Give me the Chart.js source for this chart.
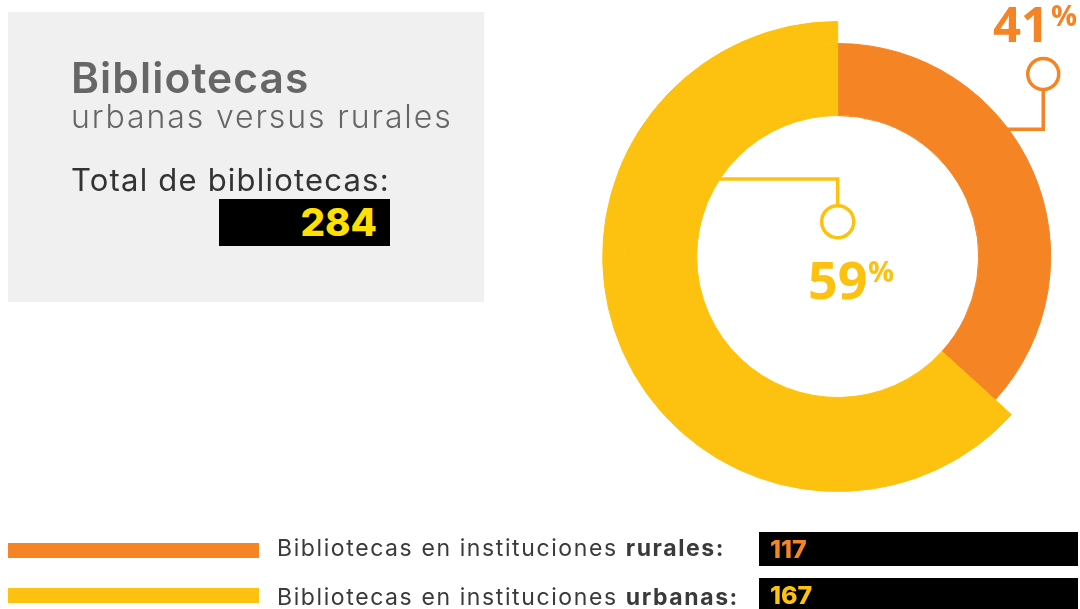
<!DOCTYPE html>
<html>
<head>
<meta charset="utf-8">
<script src="https://cdn.jsdelivr.net/npm/chart.js@4"></script>
<style>
  html, body { margin: 0; padding: 0; background: #fff; }
  body { width: 1080px; height: 609px; position: relative; overflow: hidden; font-family: "Inter", "Noto Sans", sans-serif; }
  #chart { position: absolute; left: 0; top: 0; }
  .abs { position: absolute; white-space: nowrap; line-height: 1; }
  .panel { position: absolute; left: 8px; top: 12px; width: 476px; height: 290px; background: #f0f0f0; }
  .title { left: 71px; top: 57px; font-size: 42.5px; font-weight: 600; color: #666; letter-spacing: 1.1px; }
  .subtitle { left: 71px; top: 101px; font-size: 32px; font-weight: 300; color: #666; letter-spacing: 1.9px; }
  .total { left: 71px; top: 164px; font-size: 31px; font-weight: 400; color: #333; letter-spacing: 1.2px; }
  .totalbox { left: 219px; top: 199px; width: 158px; height: 47px; line-height: 47px; padding-right: 13px; background: #000; color: #ffe000; font-size: 38.5px; font-weight: 800; text-align: right; }
  .pct { font-family: "Open Sans", sans-serif; font-weight: 700; }
  .swatch { position: absolute; left: 8px; width: 251px; height: 15px; }
  .legtext { left: 277px; font-size: 23px; color: #3a3a3a; letter-spacing: 1.6px; }
  .legtext b { font-weight: 700; }
  .numbox { left: 759px; width: 308px; height: 34px; line-height: 34px; padding-left: 11px; background: #000; font-size: 25px; font-weight: 800; }
</style>
</head>
<body>
<div class="panel"></div>
<canvas id="chart" width="1080" height="609"></canvas>

<div class="abs title">Bibliotecas</div>
<div class="abs subtitle">urbanas versus rurales</div>
<div class="abs total">Total de bibliotecas:</div>
<div class="abs totalbox" id="total"></div>

<div class="abs pct" id="pct0" style="left:993px; top:-1px; font-size:49px;"></div>
<div class="abs pct" id="pct0s" style="left:1051px; top:0px; font-size:29px;">%</div>
<div class="abs pct" id="pct1" style="left:808px; top:253px; font-size:52px;"></div>
<div class="abs pct" id="pct1s" style="left:868px; top:256px; font-size:29px;">%</div>

<div id="legend"></div>

<script>
const categories = ["rurales", "urbanas"];
const counts = [117, 167];
const percents = [41, 59];
// slice sizes as they are drawn in the reference (the arc is a bit short of 41%)
const arcShares = [36.75, 63.25];

const ORANGE = "#f48424";
const YELLOW = "#fdc210";

const colors = [ORANGE, YELLOW];

// text parts
document.getElementById("total").textContent = counts.reduce((a, b) => a + b, 0);
document.getElementById("pct0").textContent = percents[0];
document.getElementById("pct1").textContent = percents[1];
document.getElementById("pct0").style.color = ORANGE;
document.getElementById("pct0s").style.color = ORANGE;
document.getElementById("pct1").style.color = YELLOW;
document.getElementById("pct1s").style.color = YELLOW;

const legend = document.getElementById("legend");
const barTops = [543, 588];
const textTops = [537, 586];
const boxTops = [532, 578];
categories.forEach((cat, i) => {
  const sw = document.createElement("div");
  sw.className = "swatch";
  sw.style.top = barTops[i] + "px";
  sw.style.background = colors[i];
  legend.appendChild(sw);

  const t = document.createElement("div");
  t.className = "abs legtext";
  t.style.top = textTops[i] + "px";
  t.innerHTML = "Bibliotecas en instituciones <b>" + cat + ":</b>";
  legend.appendChild(t);

  const n = document.createElement("div");
  n.className = "abs numbox";
  n.style.top = boxTops[i] + "px";
  n.style.color = colors[i];
  n.textContent = counts[i];
  legend.appendChild(n);
});

// leader lines with small rings
const leaders = {
  id: "leaders",
  afterDraw(chart) {
    const arc = chart.getDatasetMeta(1).data[0];
    const cx = arc.x, cy = arc.y;
    const rIn = arc.innerRadius, rMid = arc.outerRadius;
    const ctx = chart.ctx;
    ctx.save();
    ctx.lineWidth = 3.5;

    // rural leader: out of the orange ring to the upper right
    ctx.strokeStyle = ORANGE;
    const ox = cx + rMid * 0.965, oy = cy - rMid * 0.857, rr = 15.5;
    const elbowY = cy - rMid * 0.597;
    const edgeX = cx + Math.sqrt(rMid * rMid - (cy - elbowY) ** 2) - 3;
    ctx.beginPath();
    ctx.arc(ox, oy, rr, 0, Math.PI * 2);
    ctx.stroke();
    ctx.beginPath();
    ctx.moveTo(ox, oy + rr);
    ctx.lineTo(ox, elbowY);
    ctx.lineTo(edgeX, elbowY);
    ctx.stroke();

    // urban leader: from the inner edge to the centre
    ctx.strokeStyle = YELLOW;
    const yx = cx, yy = cy - rIn * 0.247, yr = 16;
    const elbow2 = cy - rIn * 0.55;
    const edge2 = cx - Math.sqrt(rIn * rIn - (cy - elbow2) ** 2) - 3;
    ctx.beginPath();
    ctx.arc(yx, yy, yr, 0, Math.PI * 2);
    ctx.stroke();
    ctx.beginPath();
    ctx.moveTo(yx, yy - yr);
    ctx.lineTo(yx, elbow2);
    ctx.lineTo(edge2, elbow2);
    ctx.stroke();
    ctx.restore();
  }
};

new Chart(document.getElementById("chart").getContext("2d"), {
  type: "doughnut",
  data: {
    labels: categories,
    datasets: [
      // thin outer band: only the urban slice reaches it
      { data: arcShares, weight: 22, backgroundColor: ["rgba(0,0,0,0)", YELLOW], borderColor: ["rgba(0,0,0,0)", YELLOW], borderWidth: 1 },
      { data: arcShares, weight: 72, backgroundColor: colors, borderColor: colors, borderWidth: 1 },
    ],
  },
  options: {
    responsive: false,
    animation: false,
    events: [],
    radius: 235,
    cutout: "60%",
    layout: { padding: { left: 595.4, right: 0, top: 0, bottom: 96 } },
    plugins: { legend: { display: false }, tooltip: { enabled: false } },
  },
  plugins: [leaders],
});
</script>
</body>
</html>
